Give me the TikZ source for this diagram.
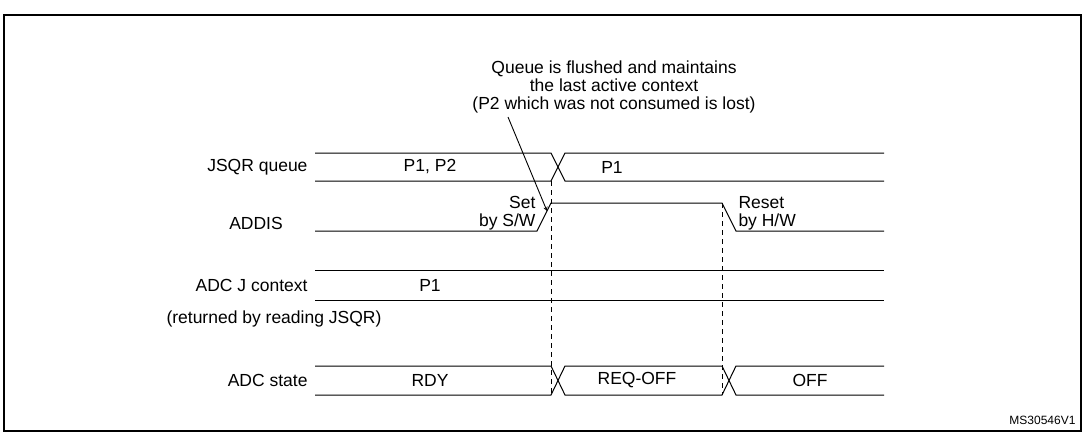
\documentclass[tikz,border=0pt]{standalone}
\usepackage{fontspec}
\setmainfont{Liberation Sans}
\begin{document}
\begin{tikzpicture}[x=1pt,y=-1pt,line width=1pt,
  lab/.style={font=\fontsize{17.5}{18}\selectfont,inner sep=0pt},
  vdash/.style={dash pattern=on 5pt off 4pt,line width=0.9pt}]
\useasboundingbox (0,0) rectangle (1085,439);
\draw[line width=1.5pt] (4,15) rectangle (1081,431);
% annotation
\node[lab,align=center] (note) at (614,87) {Queue is flushed and maintains\\the last active context\\(P2 which was not consumed is lost)};
\coordinate (as) at (508,117);
\coordinate (ae) at (547,211);
\draw[->,>=stealth,line width=0.9pt] (as) -- (ae);
% labels
\node[lab,anchor=east] (l1) at (308,167) {JSQR queue};
\node[lab] (l2) at (256,223) {ADDIS};
\node[lab,anchor=east] (l3) at (308,285) {ADC J context};
\node[lab,anchor=west] (l3b) at (166,319) {(returned by reading JSQR)};
\node[lab,anchor=east] (l4) at (308,380) {ADC state};
% JSQR
\draw (315,153) -- (551,153) -- (565,181) -- (884,181);
\draw (315,181) -- (551,181) -- (565,153) -- (884,153);
\node[lab] (p12) at (430,167) {P1, P2};
\node[lab] (p1a) at (612,167) {P1};
% ADDIS
\draw (315,231) -- (537,231) -- (551,203) -- (722,203) -- (736,231) -- (884,231);
\node[lab,align=right,anchor=east] (set) at (536,213) {Set\\by S/W};
\node[lab,align=left,anchor=west] (reset) at (738,213) {Reset\\by H/W};
% ADC J
\draw (315,270) -- (884,270);
\draw (315,300) -- (884,300);
\node[lab] (p1b) at (430,285) {P1};
% ADC state
\draw (315,366) -- (551,366) -- (558,380.5) -- (565,366) -- (722,366) -- (729,380.5) -- (736,366) -- (884,366);
\draw (315,395) -- (551,395) -- (558,380.5) -- (565,395) -- (722,395) -- (729,380.5) -- (736,395) -- (884,395);
\node[lab] (rdy) at (430,380) {RDY};
\node[lab] (req) at (637,380) {REQ-OFF};
\node[lab] (off) at (810,380) {OFF};
% dashed
\draw[vdash] (551,181) -- (551,395);
\draw[vdash] (722,203) -- (722,395);
\node[font=\fontsize{12}{14}\selectfont,inner sep=0pt,anchor=east] (id) at (1076,420) {MS30546V1};
\end{tikzpicture}
\end{document}
